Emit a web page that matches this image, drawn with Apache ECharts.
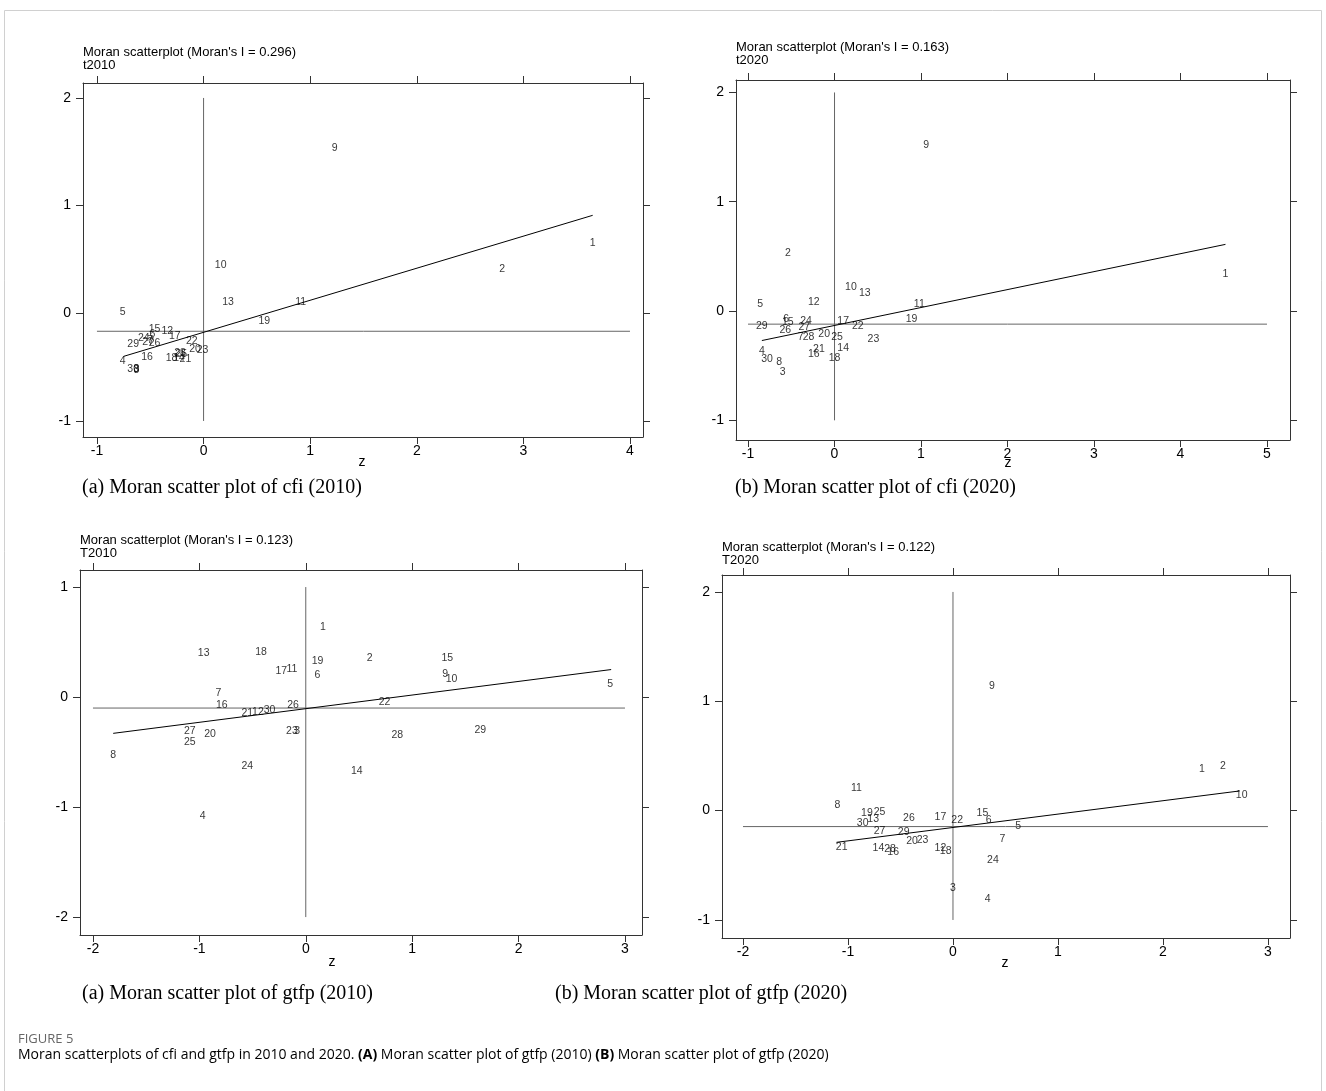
<!DOCTYPE html>
<html><head><meta charset="utf-8">
<script src="https://cdn.jsdelivr.net/npm/echarts@6/dist/echarts.min.js"></script>
<style>html,body{margin:0;padding:0;background:#fff}#c{width:1326px;height:1091px}</style>
</head><body><div id="c"></div><script>
// ---------- DATA ----------
const ids = [1,2,3,4,5,6,7,8,9,10,11,12,13,14,15,16,17,18,19,20,21,22,23,24,25,26,27,28,29,30];

// (a) cfi 2010
const cfi2010X = [3.65,2.80,-0.63,-0.76,-0.76,-0.48,-0.50,-0.63,1.23,0.16,0.91,-0.34,0.23,-0.23,-0.46,-0.53,-0.27,-0.30,0.57,-0.08,-0.17,-0.11,-0.01,-0.56,-0.21,-0.46,-0.52,-0.22,-0.66,-0.66];
const cfi2010Y = [0.65,0.41,-0.53,-0.44,0.01,-0.19,-0.25,-0.52,1.53,0.45,0.10,-0.17,0.10,-0.42,-0.15,-0.41,-0.21,-0.42,-0.07,-0.33,-0.43,-0.26,-0.34,-0.23,-0.38,-0.28,-0.27,-0.37,-0.29,-0.52];
const cfi2010H = [[-1,-0.167],[4,-0.167]];
const cfi2010V = [[0,-1],[0,2]];
const cfi2010Reg = [[-0.75,-0.40],[3.65,0.91]];
const cfi2010XTicks = [-1,0,1,2,3,4];
const cfi2010YTicks = [-1,0,1,2];

// (b) cfi 2020
const cfi2020X = [4.52,-0.54,-0.60,-0.84,-0.86,-0.56,-0.39,-0.64,1.06,0.19,0.98,-0.24,0.35,0.10,-0.54,-0.24,0.10,0.00,0.89,-0.12,-0.18,0.27,0.45,-0.33,0.03,-0.57,-0.35,-0.30,-0.84,-0.78];
const cfi2020Y = [0.34,0.53,-0.56,-0.37,0.06,-0.07,-0.24,-0.47,1.52,0.22,0.06,0.08,0.16,-0.34,-0.10,-0.39,-0.09,-0.43,-0.07,-0.21,-0.35,-0.14,-0.26,-0.09,-0.24,-0.17,-0.15,-0.24,-0.14,-0.44];
const cfi2020H = [[-1,-0.12],[5,-0.12]];
const cfi2020V = [[0,-1],[0,2]];
const cfi2020Reg = [[-0.84,-0.27],[4.52,0.61]];
const cfi2020XTicks = [-1,0,1,2,3,4,5];
const cfi2020YTicks = [-1,0,1,2];

// (a) gtfp 2010
const gtfp2010X = [0.16,0.60,-0.08,-0.97,2.86,0.11,-0.82,-1.81,1.31,1.37,-0.13,-0.45,-0.96,0.48,1.33,-0.79,-0.23,-0.42,0.11,-0.90,-0.55,0.74,-0.13,-0.55,-1.09,-0.12,-1.09,0.86,1.64,-0.34];
const gtfp2010Y = [0.64,0.35,-0.31,-1.08,0.12,0.20,0.04,-0.53,0.21,0.16,0.25,-0.14,0.40,-0.67,0.35,-0.07,0.24,0.41,0.33,-0.34,-0.15,-0.05,-0.31,-0.63,-0.41,-0.07,-0.31,-0.35,-0.30,-0.12];
const gtfp2010H = [[-2,-0.10],[3,-0.10]];
const gtfp2010V = [[0,-2],[0,1]];
const gtfp2010Reg = [[-1.81,-0.33],[2.87,0.25]];
const gtfp2010XTicks = [-2,-1,0,1,2,3];
const gtfp2010YTicks = [-2,-1,0,1];

// (b) gtfp 2020
const gtfp2020X = [2.37,2.57,0.00,0.33,0.62,0.34,0.47,-1.10,0.37,2.75,-0.92,-0.12,-0.76,-0.71,0.28,-0.57,-0.12,-0.07,-0.82,-0.39,-1.06,0.04,-0.29,0.38,-0.70,-0.42,-0.70,-0.60,-0.47,-0.86];
const gtfp2020Y = [0.38,0.41,-0.71,-0.81,-0.14,-0.09,-0.26,0.05,1.14,0.14,0.21,-0.34,-0.08,-0.34,-0.02,-0.38,-0.06,-0.37,-0.02,-0.28,-0.33,-0.09,-0.27,-0.45,-0.01,-0.07,-0.19,-0.35,-0.20,-0.11];
const gtfp2020H = [[-2,-0.146],[3,-0.146]];
const gtfp2020V = [[0,-1],[0,2]];
const gtfp2020Reg = [[-1.11,-0.29],[2.73,0.18]];
const gtfp2020XTicks = [-2,-1,0,1,2,3];
const gtfp2020YTicks = [-1,0,1,2];

const titles = ["Moran scatterplot (Moran's I = 0.296)","Moran scatterplot (Moran's I = 0.163)","Moran scatterplot (Moran's I = 0.123)","Moran scatterplot (Moran's I = 0.122)"];
const subtitles = ["t2010","t2020","T2010","T2020"];
const captions = ["(a) Moran scatter plot of cfi (2010)","(b) Moran scatter plot of cfi (2020)","(a) Moran scatter plot of gtfp (2010)","(b) Moran scatter plot of gtfp (2020)"];

// ---------- LAYOUT ----------
const panels = [
  {x:cfi2010X,y:cfi2010Y,h:cfi2010H,v:cfi2010V,reg:cfi2010Reg,xt:cfi2010XTicks,yt:cfi2010YTicks,
   grid:{left:83,top:83,width:560,height:354}, xr:[-1.131,4.122], yr:[-1.149,2.139],
   titleY:46, zPos:[362,462], capPos:[82,478]},
  {x:cfi2020X,y:cfi2020Y,h:cfi2020H,v:cfi2020V,reg:cfi2020Reg,xt:cfi2020XTicks,yt:cfi2020YTicks,
   grid:{left:736,top:80,width:554,height:360}, xr:[-1.139,5.266], yr:[-1.18,2.114],
   titleY:41, zPos:[1008,463], capPos:[735,478]},
  {x:gtfp2010X,y:gtfp2010Y,h:gtfp2010H,v:gtfp2010V,reg:gtfp2010Reg,xt:gtfp2010XTicks,yt:gtfp2010YTicks,
   grid:{left:80,top:570,width:562,height:365}, xr:[-2.122,3.16], yr:[-2.163,1.155],
   titleY:534, zPos:[332,962], capPos:[82,984]},
  {x:gtfp2020X,y:gtfp2020Y,h:gtfp2020H,v:gtfp2020V,reg:gtfp2020Reg,xt:gtfp2020XTicks,yt:gtfp2020YTicks,
   grid:{left:722,top:575,width:568,height:363}, xr:[-2.2,3.21], yr:[-1.165,2.155],
   titleY:541, zPos:[1005,963], capPos:[555,984]}
];

const FONT = '"Liberation Sans"';
const AX = '#333';
const grids = [], xAxes = [], yAxes = [], series = [], graphics = [];

panels.forEach((p, i) => {
  grids.push(Object.assign({containLabel:false}, p.grid));
  const common = {gridIndex:i, type:'value', splitLine:{show:false},
    axisLine:{show:true, onZero:false, lineStyle:{color:AX, width:1}}};
  xAxes.push(Object.assign({}, common, {position:'bottom', min:p.xr[0], max:p.xr[1],
    axisTick:{show:true, length:7, customValues:p.xt, lineStyle:{color:AX}},
    axisLabel:{show:true, customValues:p.xt, color:'#000', fontSize:14, fontFamily:'Liberation Sans', margin:7}}));
  xAxes.push(Object.assign({}, common, {position:'top', min:p.xr[0], max:p.xr[1],
    axisTick:{show:true, length:7, customValues:p.xt, lineStyle:{color:AX}},
    axisLabel:{show:false, customValues:p.xt}}));
  yAxes.push(Object.assign({}, common, {position:'left', min:p.yr[0], max:p.yr[1],
    axisTick:{show:true, length:7, customValues:p.yt, lineStyle:{color:AX}},
    axisLabel:{show:true, customValues:p.yt, color:'#000', fontSize:14, fontFamily:'Liberation Sans', margin:12}}));
  yAxes.push(Object.assign({}, common, {position:'right', min:p.yr[0], max:p.yr[1],
    axisTick:{show:true, length:7, customValues:p.yt, lineStyle:{color:AX}},
    axisLabel:{show:false, customValues:p.yt}}));
  const xi = 2*i, yi = 2*i;
  const lineS = (data, color) => ({type:'line', xAxisIndex:xi, yAxisIndex:yi, data:data, symbol:'none',
    silent:true, lineStyle:{color:color, width:1}, z:1});
  series.push(lineS(p.h, '#666'));
  series.push(lineS(p.v, '#666'));
  series.push(lineS(p.reg, '#000'));
  series.push({type:'scatter', xAxisIndex:xi, yAxisIndex:yi, symbolSize:1, silent:true,
    itemStyle:{color:'rgba(0,0,0,0)'}, z:3,
    data: ids.map((id,k) => ({name:String(id), value:[p.x[k], p.y[k]]})),
    label:{show:true, position:'inside', formatter:'{b}', color:'#000', fontSize:10.5, fontFamily:'Liberation Sans'}});
  graphics.push({type:'text', left:p.grid.left, top:p.titleY,
    style:{text:titles[i], font:'13px ' + FONT, fill:'#000'}});
  graphics.push({type:'text', left:p.grid.left, top:p.titleY+13,
    style:{text:subtitles[i], font:'13px ' + FONT, fill:'#000'}});
  graphics.push({type:'text', x:p.zPos[0], y:p.zPos[1],
    style:{text:'z', font:'14px ' + FONT, fill:'#000', align:'center', verticalAlign:'middle'}});
  graphics.push({type:'text', x:p.capPos[0], y:p.capPos[1],
    style:{text:captions[i], font:'20px "Liberation Serif"', fill:'#000'}});
});

graphics.push({type:'rect', shape:{x:4.5, y:10.5, width:1317, height:1100},
  style:{fill:'none', stroke:'#d0d0d0', lineWidth:1}, z:-1});
graphics.push({type:'text', x:18, y:1033,
  style:{text:'FIGURE 5', font:'13px "Open Sans"', fill:'#666'}});
graphics.push({type:'text', x:18, y:1048,
  style:{text:'{n|Moran scatterplots of cfi and gtfp in 2010 and 2020. }{b|(A)}{n| Moran scatter plot of gtfp (2010) }{b|(B)}{n| Moran scatter plot of gtfp (2020)}',
    rich:{n:{fontSize:14, fontFamily:'Open Sans', color:'#555'}, b:{fontSize:14, fontWeight:'bold', fontFamily:'Open Sans', color:'#444'}}}});

const chart = echarts.init(document.getElementById('c'), null, {renderer:'canvas'});
chart.setOption({animation:false, backgroundColor:'#fff', grid:grids, xAxis:xAxes, yAxis:yAxes,
  series:series, graphic:graphics});
</script></body></html>
